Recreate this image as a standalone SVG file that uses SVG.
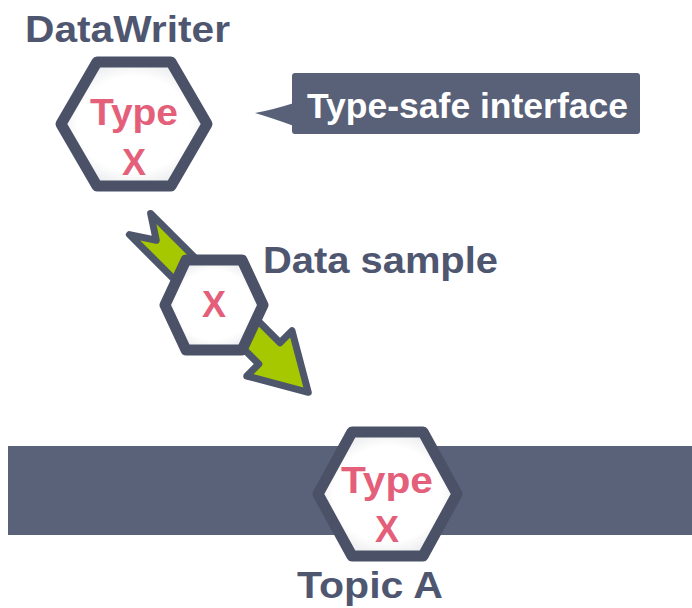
<svg xmlns="http://www.w3.org/2000/svg" width="692" height="608" viewBox="0 0 692 608">
<defs>
<radialGradient id="hexfill" cx="50%" cy="50%" r="55%">
<stop offset="0.7" stop-color="#ffffff"/>
<stop offset="1" stop-color="#e6e7ea"/>
</radialGradient>
</defs>
<style>
.hex{fill:url(#hexfill);stroke:#4b5267;stroke-width:11;stroke-linejoin:round}
.pink{font-family:"Liberation Sans",Arial,sans-serif;font-weight:bold;font-size:36px;fill:#e4607a;text-anchor:middle}
.lbl{font-family:"Liberation Sans",Arial,sans-serif;font-weight:bold;font-size:36px;fill:#4f5670}
.call{font-family:"Liberation Sans",Arial,sans-serif;font-weight:bold;font-size:35px;fill:#ffffff}
.arrow{fill:#a6c800;stroke:#4e566c;stroke-width:7;stroke-linejoin:round}
</style>
<rect id="band" x="8" y="446" width="684" height="89" fill="#5a6279"/>
<g id="connectors">
<g transform="translate(140,224) rotate(45)">
<polygon class="arrow" points="0,-15 183,-15 183,-32 238,0 183,32 183,15 0,15 23,0"/>
</g>
</g>
<g id="datawriter">
<text class="lbl" x="25" y="42" textLength="205" lengthAdjust="spacingAndGlyphs">DataWriter</text>
<polygon class="hex" points="61,124 97,62 171,62 207,124 171,186 97,186"/>
<text class="pink" x="134" y="125" textLength="88" lengthAdjust="spacingAndGlyphs">Type</text>
<text class="pink" x="134" y="175">X</text>
</g>
<g id="callout">
<rect x="292" y="73" width="348" height="61" rx="3" fill="#596179"/>
<path d="M294,103 Q272,110 255,113 Q272,118 294,126 Z" fill="#596179"/>
<text class="call" x="307" y="118" textLength="321" lengthAdjust="spacingAndGlyphs">Type-safe interface</text>
</g>
<g id="sample">
<polygon class="hex" stroke-width="10" points="165,305 186,260 242,260 263,305 242,350 186,350"/>
<text class="pink" x="214" y="317">X</text>
<text class="lbl" x="263" y="273" textLength="235" lengthAdjust="spacingAndGlyphs">Data sample</text>
</g>
<g id="topic">
<polygon class="hex" points="318,494 352,432 423,432 457,494 423,556 352,556"/>
<text class="pink" x="387" y="493" textLength="92" lengthAdjust="spacingAndGlyphs">Type</text>
<text class="pink" x="387" y="542">X</text>
<text class="lbl" x="297" y="598" textLength="146" lengthAdjust="spacingAndGlyphs">Topic A</text>
</g>
</svg>
